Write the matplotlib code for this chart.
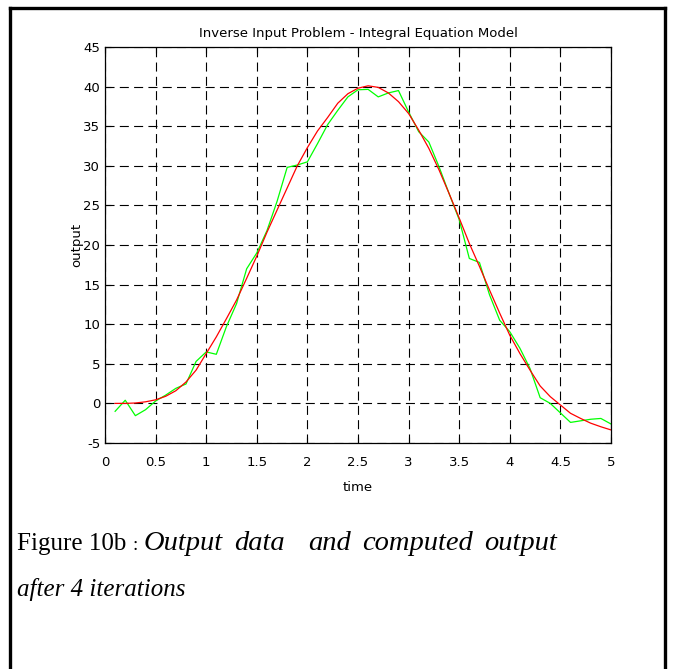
import numpy as np
import matplotlib.pyplot as plt
from matplotlib.lines import Line2D

plt.rcParams['font.family'] = 'DejaVu Sans'
plt.rcParams['axes.unicode_minus'] = False
plt.rcParams['lines.scale_dashes'] = False

# tiempo de muestreo
time = np.linspace(0.1, 5.0, 50)

# datos de salida (ruidosos)
output_data = [-1.0, 0.4, -1.55, -0.8, 0.3, 1.05, 1.9, 2.45, 5.3, 6.5,
               6.2, 9.7, 12.6, 17.0, 19.0, 21.8, 25.5, 29.8, 30.1, 30.5,
               32.8, 35.2, 37.0, 38.7, 39.6, 39.65, 38.7, 39.2, 39.5, 36.8,
               34.3, 33.0, 29.9, 26.5, 23.2, 18.3, 17.8, 13.7, 10.5, 9.05,
               6.96, 4.4, 0.72, 0.0, -1.2, -2.4, -2.2, -2.0, -1.9, -2.6]

# salida calculada despues de 4 iteraciones
computed_output = [0.0, 0.0, 0.05, 0.2, 0.45, 0.9, 1.6, 2.7, 4.2, 6.3,
                   8.4, 10.7, 13.05, 15.8, 18.6, 21.6, 24.4, 27.2, 30.0, 32.3,
                   34.4, 36.1, 37.9, 39.1, 39.8, 40.1, 39.9, 39.2, 38.1, 36.6,
                   34.5, 32.2, 29.5, 26.5, 23.4, 20.2, 17.3, 14.3, 11.4, 8.6,
                   6.3, 4.2, 2.2, 0.85, -0.2, -1.25, -1.9, -2.5, -2.95, -3.35]

# pie de figura
caption_head = 'Figure 10b'
caption_words = ['Output', 'data', 'and', 'computed', 'output']
caption_gaps = [1, 2, 1, 1]   # espacios entre palabras (justificado)
caption_line2 = 'after 4 iterations'

W, H = 674, 669
fig = plt.figure(figsize=(W / 100, H / 100), dpi=100)
ax = fig.add_axes([105 / W, 1 - 443 / H, 506 / W, 396 / H])

ax.plot(time, output_data, color='#00ff00', lw=0.9)
ax.plot(time, computed_output, color='#ff0000', lw=0.9)

ax.set_xlim(0, 5)
ax.set_ylim(-5, 45)
ax.set_xticks(np.arange(0, 5.01, 0.5))
ax.set_xticklabels(['0', '0.5', '1', '1.5', '2', '2.5', '3', '3.5', '4', '4.5', '5'])
ax.set_yticks(np.arange(-5, 46, 5))
ax.tick_params(direction='in', top=True, right=True, length=4, width=0.8,
               labelsize=9.5)
ax.tick_params(axis='x', pad=9)
ax.tick_params(axis='y', pad=3.5)
ax.grid(True, color='black', lw=0.8, linestyle=(0, (6.5, 3.8)))
for s in ax.spines.values():
    s.set_linewidth(0.9)

ax.set_title('Inverse Input Problem - Integral Equation Model', fontsize=9.5, pad=7)
ax.set_xlabel('time', fontsize=9.5, labelpad=9)
ax.set_ylabel('output', fontsize=9.5, labelpad=0)

# marco alrededor de la figura
lw_frame = 2.4
fig.add_artist(Line2D([10 / W, 10 / W], [1 - 8 / H, -0.01], color='black', lw=lw_frame))
fig.add_artist(Line2D([10 / W, 665 / W], [1 - 8 / H, 1 - 8 / H], color='black', lw=lw_frame))
fig.add_artist(Line2D([665 / W, 665 / W], [1 - 8 / H, -0.01], color='black', lw=lw_frame))

# primera linea: "Figure 10b :" y luego texto en cursiva justificado hasta x=557 px
renderer = fig.canvas.get_renderer()
x_left, x_right = 17, 557
base1 = 1 - 550 / H
head = fig.text(x_left / W, base1, caption_head, family='Liberation Serif',
                fontsize=18, va='baseline', ha='left')
x = x_left + head.get_window_extent(renderer).width + 6
colon = fig.text(x / W, base1, ':', family='Liberation Serif', fontsize=14,
                 va='baseline', ha='left')
x += colon.get_window_extent(renderer).width + 6

texts = [fig.text(0, base1, w, family='Liberation Serif', style='italic',
                  fontsize=20.5, va='baseline', ha='left') for w in caption_words]
widths = [t.get_window_extent(renderer).width for t in texts]
unit = (x_right - x - sum(widths)) / sum(caption_gaps)
for i, t in enumerate(texts):
    t.set_x(x / W)
    x += widths[i]
    if i < len(caption_gaps):
        x += unit * caption_gaps[i]

fig.text(x_left / W, 1 - 596 / H, caption_line2, family='Liberation Serif',
         style='italic', fontsize=18, va='baseline', ha='left')

plt.savefig('out.png', dpi=100)
